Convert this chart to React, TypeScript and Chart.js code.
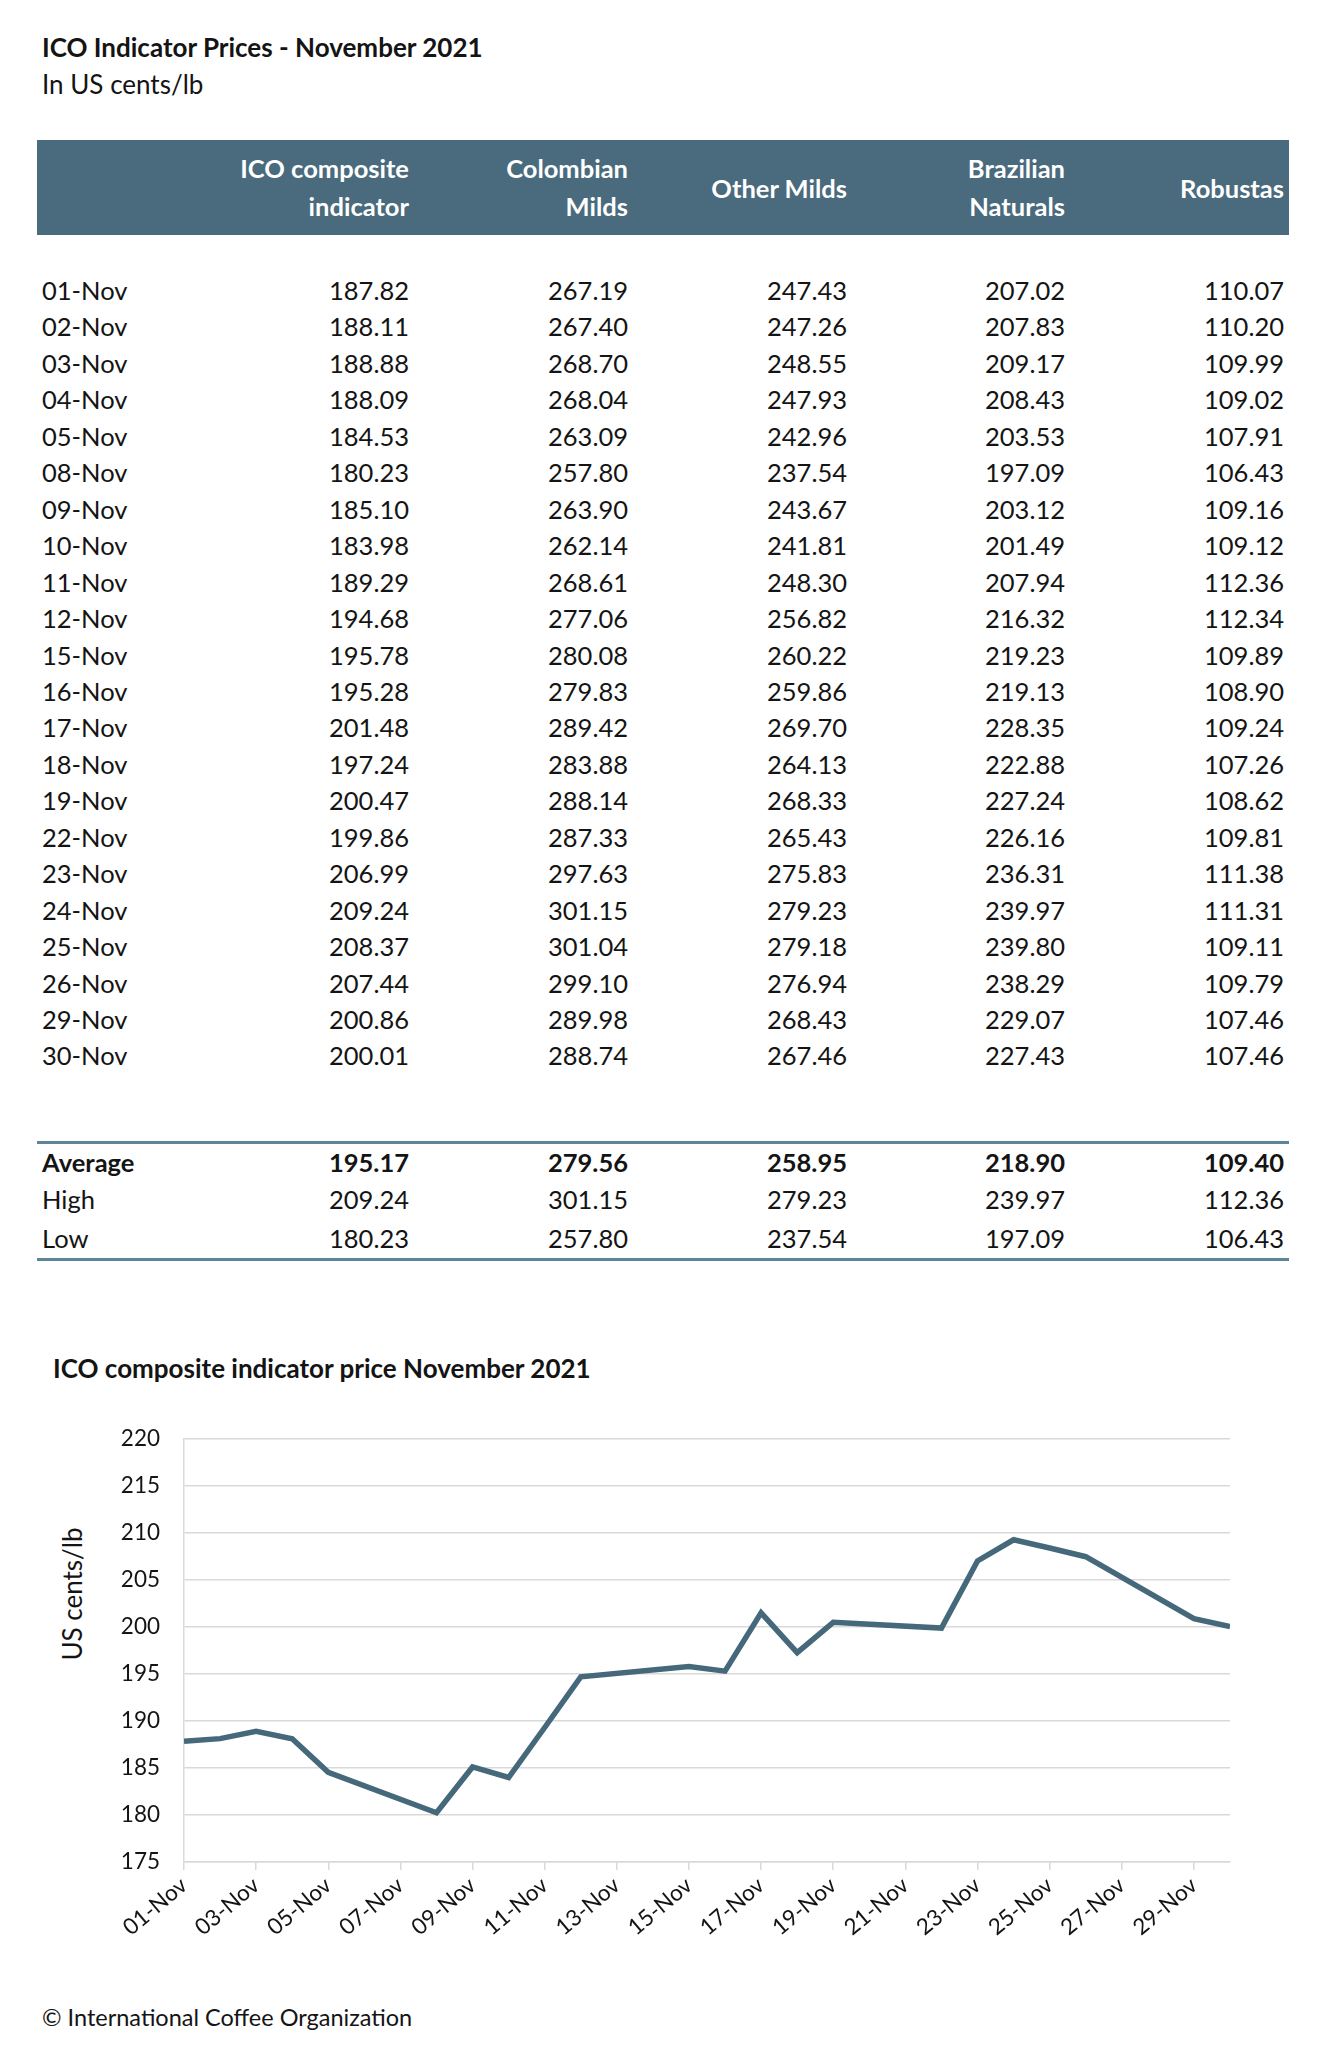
import React, { useEffect, useRef } from "react";
import { Chart, registerables } from "chart.js";

Chart.register(...registerables);

// ---------- DATA ----------
const dates = [
  "01-Nov", "02-Nov", "03-Nov", "04-Nov", "05-Nov", "08-Nov", "09-Nov", "10-Nov",
  "11-Nov", "12-Nov", "15-Nov", "16-Nov", "17-Nov", "18-Nov", "19-Nov", "22-Nov",
  "23-Nov", "24-Nov", "25-Nov", "26-Nov", "29-Nov", "30-Nov",
];
const columnHeaders = [
  ["ICO composite", "indicator"],
  ["Colombian", "Milds"],
  ["Other Milds"],
  ["Brazilian", "Naturals"],
  ["Robustas"],
];
const icoComposite = [187.82, 188.11, 188.88, 188.09, 184.53, 180.23, 185.10, 183.98, 189.29, 194.68, 195.78, 195.28, 201.48, 197.24, 200.47, 199.86, 206.99, 209.24, 208.37, 207.44, 200.86, 200.01];
const colombianMilds = [267.19, 267.40, 268.70, 268.04, 263.09, 257.80, 263.90, 262.14, 268.61, 277.06, 280.08, 279.83, 289.42, 283.88, 288.14, 287.33, 297.63, 301.15, 301.04, 299.10, 289.98, 288.74];
const otherMilds = [247.43, 247.26, 248.55, 247.93, 242.96, 237.54, 243.67, 241.81, 248.30, 256.82, 260.22, 259.86, 269.70, 264.13, 268.33, 265.43, 275.83, 279.23, 279.18, 276.94, 268.43, 267.46];
const brazilianNaturals = [207.02, 207.83, 209.17, 208.43, 203.53, 197.09, 203.12, 201.49, 207.94, 216.32, 219.23, 219.13, 228.35, 222.88, 227.24, 226.16, 236.31, 239.97, 239.80, 238.29, 229.07, 227.43];
const robustas = [110.07, 110.20, 109.99, 109.02, 107.91, 106.43, 109.16, 109.12, 112.36, 112.34, 109.89, 108.90, 109.24, 107.26, 108.62, 109.81, 111.38, 111.31, 109.11, 109.79, 107.46, 107.46];

const summaryLabels = ["Average", "High", "Low"];
const averageRow = [195.17, 279.56, 258.95, 218.90, 109.40];
const highRow = [209.24, 301.15, 279.23, 239.97, 112.36];
const lowRow = [180.23, 257.80, 237.54, 197.09, 106.43];

const xTickDays = [1, 3, 5, 7, 9, 11, 13, 15, 17, 19, 21, 23, 25, 27, 29];
const xTickLabels = ["01-Nov", "03-Nov", "05-Nov", "07-Nov", "09-Nov", "11-Nov", "13-Nov", "15-Nov", "17-Nov", "19-Nov", "21-Nov", "23-Nov", "25-Nov", "27-Nov", "29-Nov"];
const yMin = 175;
const yMax = 220;
const yStep = 5;
const yAxisTitle = "US cents/lb";

// ---------- STYLE ----------
const FONT = "Lato, 'Open Sans', sans-serif";
const TEXT = "#141414";
const BAND = "#496b7d";
const RULE = "#5d8599";
const LINE = "#45697b";
const GRID = "#d9d9d9";

const colRights = [409, 628, 847, 1065, 1284];
const rowTop0 = 272;
const rowH = 36.45;
const BODY_SIZE = 25.5;

function ChartBlock() {
  const ref = useRef<HTMLCanvasElement | null>(null);
  useEffect(() => {
    if (!ref.current) return;
    const points = dates.map((d, i) => ({ x: parseInt(d, 10), y: icoComposite[i] }));
    const chart = new Chart(ref.current, {
      type: "line",
      data: {
        datasets: [
          {
            data: points,
            borderColor: LINE,
            borderWidth: 5.5,
            pointRadius: 0,
            tension: 0,
            fill: false,
          },
        ],
      },
      options: {
        animation: false,
        responsive: false,
        maintainAspectRatio: false,
        layout: { padding: { top: 20, right: 40, left: 0, bottom: 0 } },
        plugins: { legend: { display: false }, tooltip: { enabled: false }, title: { display: false } },
        scales: {
          x: {
            type: "linear",
            min: 1,
            max: 30,
            afterBuildTicks: (scale: any) => {
              scale.ticks = xTickDays.map((v) => ({ value: v }));
            },
            afterFit: (scale: any) => {
              scale.height = 100;
            },
            ticks: {
              autoSkip: false,
              maxRotation: 40,
              minRotation: 40,
              padding: 2,
              color: TEXT,
              font: { family: FONT, size: 22.5 },
              callback: (_v: any, i: number) => xTickLabels[i],
            },
            grid: {
              display: true,
              drawOnChartArea: false,
              drawTicks: true,
              tickLength: 8,
              color: GRID,
              lineWidth: 1.5,
            },
            border: { display: true, color: GRID, width: 1.5 },
          },
          y: {
            type: "linear",
            min: yMin,
            max: yMax,
            afterFit: (scale: any) => {
              scale.width = 144;
            },
            ticks: {
              stepSize: yStep,
              padding: 24,
              color: TEXT,
              font: { family: FONT, size: 22.5 },
            },
            grid: { color: GRID, lineWidth: 1.5, drawTicks: false },
            border: { display: true, color: GRID, width: 1.5 },
          },
        },
      },
    });
    return () => chart.destroy();
  }, []);
  return (
    <canvas
      ref={ref}
      width={1230}
      height={561}
      style={{ position: "absolute", left: 40, top: 1401, width: 1230, height: 561 }}
    />
  );
}

function cellStyle(right: number, top: number, h: number, bold = false): React.CSSProperties {
  return {
    position: "absolute",
    right: 1324 - right,
    top,
    height: h,
    lineHeight: `${h}px`,
    whiteSpace: "nowrap",
    fontWeight: bold ? 700 : 400,
  };
}

export default function App() {
  const series = [icoComposite, colombianMilds, otherMilds, brazilianNaturals, robustas];
  const summaryRows = [averageRow, highRow, lowRow];
  const summaryTops = [1144, 1181, 1220];
  return (
    <div
      style={{
        position: "absolute",
        left: 0,
        top: 0,
        width: 1324,
        height: 2048,
        background: "#fff",
        fontFamily: FONT,
        color: TEXT,
        overflow: "hidden",
      }}
    >
      <div style={{ position: "absolute", left: 42, top: 31, fontSize: 26, fontWeight: 700, lineHeight: "32px" }}>
        ICO Indicator Prices - November 2021
      </div>
      <div style={{ position: "absolute", left: 42, top: 68, fontSize: 26, lineHeight: "32px" }}>In US cents/lb</div>

      {/* header band */}
      <div style={{ position: "absolute", left: 37, top: 140, width: 1252, height: 95, background: BAND }} />
      {columnHeaders.map((lines, c) => {
        const r = colRights[c];
        if (lines.length === 1) {
          return (
            <div key={c} style={{ ...cellStyle(r, 169, 38, true), color: "#fff", fontSize: 25.5 }}>
              {lines[0]}
            </div>
          );
        }
        return (
          <React.Fragment key={c}>
            <div style={{ ...cellStyle(r, 149, 38, true), color: "#fff", fontSize: 25.5 }}>{lines[0]}</div>
            <div style={{ ...cellStyle(r, 187, 38, true), color: "#fff", fontSize: 25.5 }}>{lines[1]}</div>
          </React.Fragment>
        );
      })}

      {/* data rows */}
      {dates.map((d, i) => {
        const top = rowTop0 + i * rowH;
        return (
          <React.Fragment key={d}>
            <div
              style={{ position: "absolute", left: 42, top, height: rowH, lineHeight: `${rowH}px`, fontSize: BODY_SIZE }}
            >
              {d}
            </div>
            {series.map((s, c) => (
              <div key={c} style={{ ...cellStyle(colRights[c], top, rowH), fontSize: BODY_SIZE }}>
                {s[i].toFixed(2)}
              </div>
            ))}
          </React.Fragment>
        );
      })}

      {/* summary */}
      <div style={{ position: "absolute", left: 37, top: 1141, width: 1252, height: 3, background: RULE }} />
      {summaryRows.map((row, k) => (
        <React.Fragment key={k}>
          <div
            style={{
              position: "absolute",
              left: 42,
              top: summaryTops[k],
              height: 36,
              lineHeight: "36px",
              fontSize: BODY_SIZE,
              fontWeight: k === 0 ? 700 : 400,
            }}
          >
            {summaryLabels[k]}
          </div>
          {row.map((v, c) => (
            <div key={c} style={{ ...cellStyle(colRights[c], summaryTops[k], 36, k === 0), fontSize: BODY_SIZE }}>
              {v.toFixed(2)}
            </div>
          ))}
        </React.Fragment>
      ))}
      <div style={{ position: "absolute", left: 37, top: 1258, width: 1252, height: 3, background: RULE }} />

      {/* chart */}
      <div style={{ position: "absolute", left: 53, top: 1352, fontSize: 26, fontWeight: 700, lineHeight: "32px" }}>
        ICO composite indicator price November 2021
      </div>
      <div
        style={{
          position: "absolute",
          left: 72,
          top: 1594,
          fontSize: 26,
          lineHeight: "30px",
          whiteSpace: "nowrap",
          transform: "translate(-50%, -50%) rotate(-90deg)",
        }}
      >
        {yAxisTitle}
      </div>
      <ChartBlock />

      <div style={{ position: "absolute", left: 42, top: 2002, fontSize: 23.5, lineHeight: "30px" }}>
        © International Coffee Organization
      </div>
    </div>
  );
}
